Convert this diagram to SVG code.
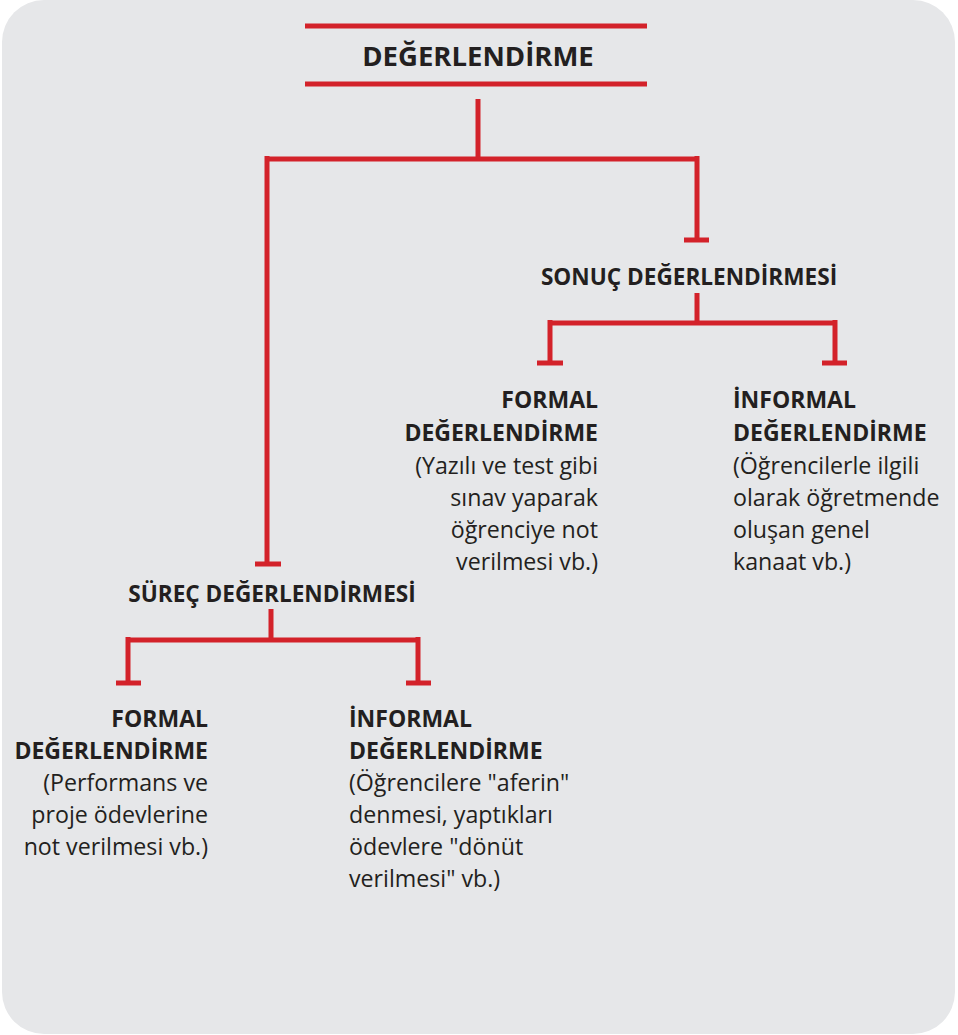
<svg xmlns="http://www.w3.org/2000/svg" width="958" height="1035" viewBox="0 0 958 1035">
<style>
.ln{stroke:#d3222a;stroke-width:5;fill:none;stroke-linecap:butt}
.t{font-family:"Open Sans","Liberation Sans",sans-serif;fill:#231f20}
.b{font-weight:bold}
.h{font-size:23px;font-weight:bold}
.s{font-size:22.6px;font-weight:bold}
.r{font-size:23.2px}
</style>
<rect x="2" y="0" width="953" height="1034" rx="42" fill="#e6e7e9"/>
<g id="connectors">
<line class="ln" x1="305" y1="26" x2="647" y2="26"/>
<line class="ln" x1="305" y1="84" x2="647" y2="84"/>
<path class="ln" d="M478 99V159M267 159H697M267 156V564M697 156V240"/>
<path class="ln" d="M255 564H281M684 240H709"/>
<path class="ln" d="M697 293V323M550 323H835M550 320V363M835 320V363M537 363H563M822 363H847"/>
<path class="ln" d="M271 609V640M128 640H418M128 637V683M418 637V683M116 683H141M406 683H431"/>
</g>
<g id="root"><text class="t b" x="478" y="66" font-size="27.5" text-anchor="middle">DEĞERLENDİRME</text></g>
<g id="sonuc"><text class="t s" x="689" y="285" text-anchor="middle">SONUÇ DEĞERLENDİRMESİ</text></g>
<g id="surec"><text class="t s" x="272" y="602" text-anchor="middle">SÜREÇ DEĞERLENDİRMESİ</text></g>
<g id="sonuc-formal" text-anchor="end">
<text class="t h" x="598" y="408">FORMAL</text>
<text class="t h" x="598" y="441">DEĞERLENDİRME</text>
<text class="t r" x="598" y="474">(Yazılı ve test gibi</text>
<text class="t r" x="598" y="506">sınav yaparak</text>
<text class="t r" x="598" y="538">öğrenciye not</text>
<text class="t r" x="598" y="570">verilmesi vb.)</text>
</g>
<g id="sonuc-informal">
<text class="t h" x="733" y="408">İNFORMAL</text>
<text class="t h" x="733" y="441">DEĞERLENDİRME</text>
<text class="t r" x="733" y="474">(Öğrencilerle ilgili</text>
<text class="t r" x="733" y="506">olarak öğretmende</text>
<text class="t r" x="733" y="538">oluşan genel</text>
<text class="t r" x="733" y="570">kanaat vb.)</text>
</g>
<g id="surec-formal" text-anchor="end">
<text class="t h" x="208" y="727">FORMAL</text>
<text class="t h" x="208" y="759">DEĞERLENDİRME</text>
<text class="t r" x="208" y="791">(Performans ve</text>
<text class="t r" x="208" y="823">proje ödevlerine</text>
<text class="t r" x="208" y="855">not verilmesi vb.)</text>
</g>
<g id="surec-informal">
<text class="t h" x="349" y="727">İNFORMAL</text>
<text class="t h" x="349" y="759">DEĞERLENDİRME</text>
<text class="t r" x="349" y="791">(Öğrencilere "aferin"</text>
<text class="t r" x="349" y="823">denmesi, yaptıkları</text>
<text class="t r" x="349" y="855">ödevlere "dönüt</text>
<text class="t r" x="349" y="887">verilmesi" vb.)</text>
</g>
</svg>
